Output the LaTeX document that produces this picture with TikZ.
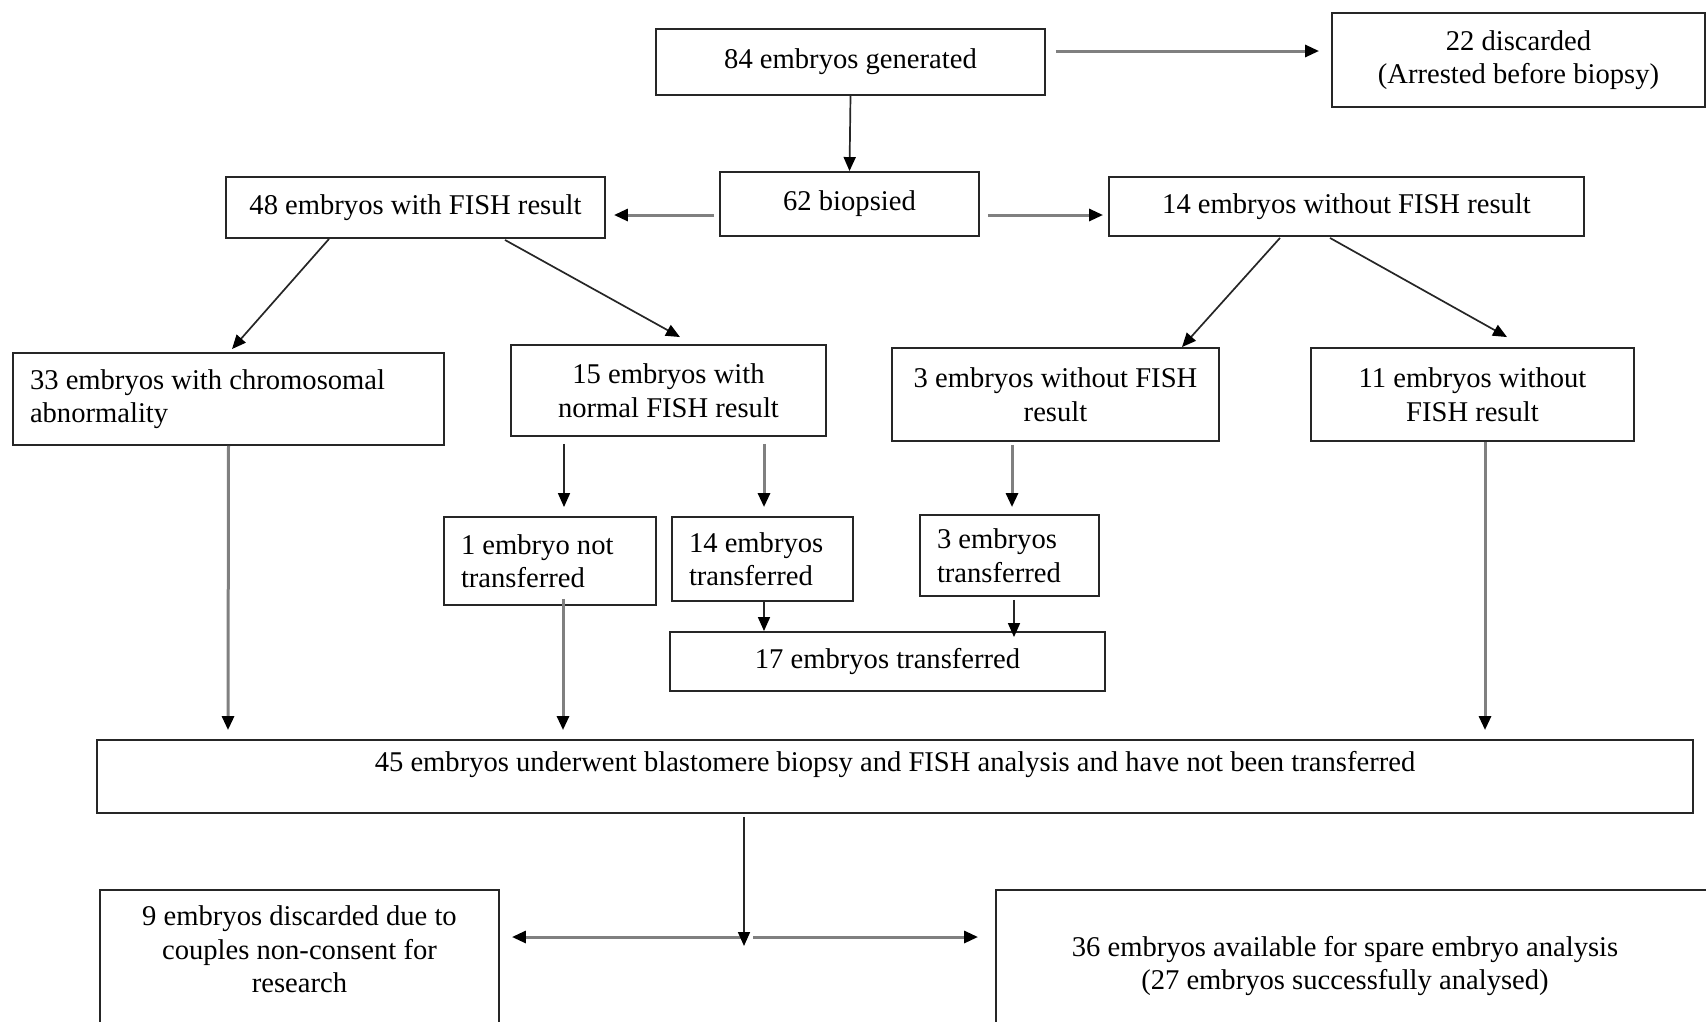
\documentclass[tikz,border=0pt]{standalone}
\usepackage{fontspec}
\setmainfont{Liberation Serif}
\usetikzlibrary{arrows.meta,calc}
\begin{document}
\begin{tikzpicture}[x=1pt,y=-1pt,
  font=\fontsize{28.6}{33.5}\selectfont,
  box/.style={draw=black!85,line width=1.9pt,inner sep=0pt,minimum width=#1,align=center},
  lbox/.style={draw=black!85,line width=1.9pt,inner xsep=17pt,inner ysep=0pt,text width=#1-34pt,align=flush left},
  txt/.style={inner sep=0pt,align=center},
  garr/.style={draw=black!50,line width=3pt,-{Triangle[length=14pt,width=12pt,color=black]}},
  darr/.style={draw=black!85,line width=1.7pt,-{Triangle[length=14pt,width=12pt,color=black]}}
]
\useasboundingbox (0,0) rectangle (1706,1021);
\clip (0,0) rectangle (1706,1021);
% boxes
\node[box=389pt,minimum height=66pt] (b84) at (850.5,62) {\raisebox{5pt}{84 embryos generated}};
\node[box=373pt,minimum height=94pt] (b22) at (1518.5,60) {22 discarded\\(Arrested before biopsy)};
\node[box=259pt,minimum height=64pt] (b62) at (849.5,204) {\raisebox{5pt}{62 biopsied}};
\node[box=379pt,minimum height=61pt] (b48) at (415.5,207.5) {48 embryos with FISH result};
\node[box=475pt,minimum height=59pt] (b14) at (1346.5,206.5) {14 embryos without FISH result};
\node[lbox=431pt,minimum height=92pt] (b33) at (228.5,399) {33 embryos with chromosomal\\abnormality};
\node[box=315pt,minimum height=91pt] (b15) at (668.5,390.5) {15 embryos with\\normal FISH result};
\node[box=327pt,minimum height=93pt] (b3w) at (1055.5,394.5) {3 embryos without FISH\\result};
\node[box=323pt,minimum height=93pt] (b11) at (1472.5,394.5) {11 embryos without\\FISH result};
\node[lbox=212pt,minimum height=88pt] (b1) at (550,561) {1 embryo not\\transferred};
\node[lbox=181pt,minimum height=84pt] (b14t) at (762.5,559) {14 embryos\\transferred};
\node[lbox=179pt,minimum height=81pt] (b3t) at (1009.5,555.5) {3 embryos\\transferred};
\node[box=435pt,minimum height=59pt] (b17) at (887.5,661.5) {17 embryos transferred};
\node[box=1596pt,minimum height=73pt] (b45) at (895,776.5) {};
\node[txt] (t45) at (895,765) {45 embryos underwent blastomere biopsy and FISH analysis and have not been transferred};
\node[box=399pt,minimum height=170pt] (b9) at (299.5,975) {};
\node[txt] (t9) at (299.5,949.5) {9 embryos discarded due to\\couples non-consent for\\research};
\node[box=744pt,minimum height=170pt] (b36) at (1368,975) {};
\node[txt] (t36) at (1345,966) {36 embryos available for spare embryo analysis\\(27 embryos successfully analysed)};
% connectors
\draw[garr] ($(b84.east)+(10,-11)$) -- ($(b22.west)+(-12,-9)$);
\draw[darr] (b84.south) -- (b62.north);
\draw[garr] ($(b62.west)+(-5,11)$) -- ($(b48.east)+(8,7.5)$);
\draw[garr] ($(b62.east)+(8,11)$) -- ($(b14.west)+(-5,8.5)$);
\draw[darr] ($(b48.south)+(-86.5,0)$) -- ($(b33.north)+(3.5,-3)$);
\draw[darr] ($(b48.south)+(89.5,1)$) -- ($(b15.north)+(11.5,-7)$);
\draw[darr] ($(b14.south)+(-66.5,1)$) -- ($(b3w.north)+(126.5,0)$);
\draw[darr] ($(b14.south)+(-16.5,1)$) -- ($(b11.north)+(34.5,-10)$);
\draw[darr] ($(b15.south)+(-104.5,7)$) -- ($(b1.north)+(14,-9)$);
\draw[garr] ($(b15.south)+(95.5,7)$) -- ($(b14t.north)+(1.5,-9)$);
\draw[garr] ($(b3w.south)+(-43.5,3)$) -- ($(b3t.north)+(2.5,-7)$);
\draw[darr] ($(b14t.south)+(1.5,0)$) -- ($(b17.north)+(-123.5,0)$);
\draw[darr] ($(b3t.south)+(4.5,3)$) -- ($(b17.north)+(126.5,6)$);
\draw[garr] (b33.south) -- ($(b45.north)+(-667,-9)$);
\draw[garr] ($(b1.south)+(13,-7)$) -- ($(b45.north)+(-332,-9)$);
\draw[garr] ($(b11.south)+(12.5,0)$) -- ($(b45.north)+(590,-9)$);
\coordinate (j) at (744,946);
\coordinate (jh) at (744,937);
\draw[garr] (jh) -- ($(b9.east|-jh)+(12,0)$);
\draw[garr] ($(jh)+(9,0)$) -- ($(b36.west|-jh)+(-17,0)$);
\draw[darr] ($(b45.south)+(-151,3)$) -- (j);
\end{tikzpicture}
\end{document}
